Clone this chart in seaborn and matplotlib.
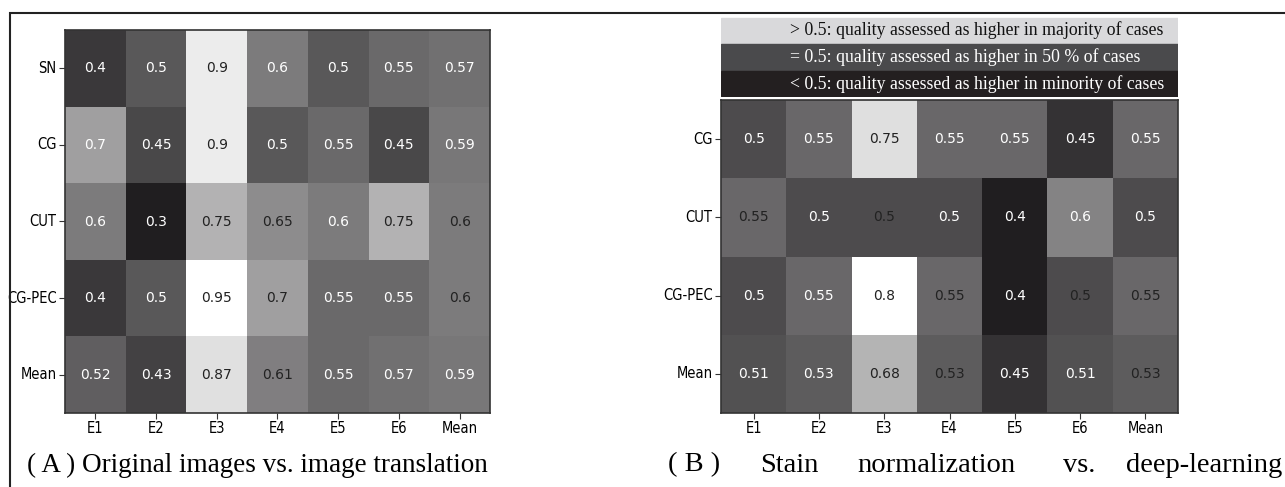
import numpy as np
import pandas as pd
import matplotlib
matplotlib.use("Agg")
import matplotlib.pyplot as plt
from matplotlib.colors import LinearSegmentedColormap
from matplotlib.patches import Rectangle
import seaborn as sns

# data
cols = ["E1", "E2", "E3", "E4", "E5", "E6", "Mean"]
rows_a = ["SN", "CG", "CUT", "CG-PEC", "Mean"]
rows_b = ["CG", "CUT", "CG-PEC", "Mean"]

vals_a = [
    [0.4, 0.5, 0.9, 0.6, 0.5, 0.55, 0.57],
    [0.7, 0.45, 0.9, 0.5, 0.55, 0.45, 0.59],
    [0.6, 0.3, 0.75, 0.65, 0.6, 0.75, 0.6],
    [0.4, 0.5, 0.95, 0.7, 0.55, 0.55, 0.6],
    [0.52, 0.43, 0.87, 0.61, 0.55, 0.57, 0.59],
]
vals_b = [
    [0.5, 0.55, 0.75, 0.55, 0.55, 0.45, 0.55],
    [0.55, 0.5, 0.5, 0.5, 0.4, 0.6, 0.5],
    [0.5, 0.55, 0.8, 0.55, 0.4, 0.5, 0.55],
    [0.51, 0.53, 0.68, 0.53, 0.45, 0.51, 0.53],
]

# cells whose annotation is printed dark
dark_a = [
    [0, 0, 1, 0, 0, 0, 0],
    [0, 0, 1, 0, 0, 0, 0],
    [0, 0, 1, 1, 0, 1, 1],
    [0, 0, 1, 1, 0, 0, 1],
    [0, 0, 1, 1, 0, 0, 0],
]
dark_b = [
    [0, 0, 1, 0, 0, 0, 0],
    [1, 0, 1, 0, 0, 0, 0],
    [0, 0, 1, 1, 0, 1, 1],
    [0, 0, 1, 1, 0, 0, 1],
]

legend_lines = [
    "> 0.5: quality assessed as higher in majority of cases",
    "= 0.5: quality assessed as higher in 50 % of cases",
    "< 0.5: quality assessed as higher in minority of cases",
]

df_a = pd.DataFrame(vals_a, index=rows_a, columns=cols)
df_b = pd.DataFrame(vals_b, index=rows_b, columns=cols)

cmap = LinearSegmentedColormap.from_list("g", ["#201e20", "#ffffff"], gamma=1.15)

W, H = 1285, 487
fig = plt.figure(figsize=(W / 100, H / 100), dpi=100)


def px_axes(x0, y0, x1, y1):
    return fig.add_axes([x0 / W, 1 - y1 / H, (x1 - x0) / W, (y1 - y0) / H])


def draw(ax, df, dark, vmin, vmax):
    sns.heatmap(df, ax=ax, cmap=cmap, vmin=vmin, vmax=vmax, annot=True, fmt=".2g",
                cbar=False, annot_kws={"fontsize": 10})
    flat = np.array(dark).ravel()
    for t, d in zip(ax.texts, flat):
        t.set_color("#222222" if d else "white")
    ax.tick_params(axis="both", length=4, pad=2, color="#333333")
    ax.set_yticklabels(ax.get_yticklabels(), rotation=0)
    for lab in ax.get_xticklabels() + ax.get_yticklabels():
        lab.set_fontsize(10.5)
        lab.set_fontstretch("condensed")
    ax.set_xlabel("")
    ax.set_ylabel("")
    for s in ax.spines.values():
        s.set_visible(True)
        s.set_color("#333333")
        s.set_linewidth(1.2)


ax_a = px_axes(65, 30, 490, 413)
draw(ax_a, df_a, dark_a, 0.3, 0.95)

ax_b = px_axes(721, 100, 1178, 413)
draw(ax_b, df_b, dark_b, 0.4, 0.8)

# legend bands above panel B
ax_l = px_axes(721, 17, 1178, 97)
band_colors = ["#d9d9db", "#4a4a4c", "#231f20"]
text_colors = ["#111111", "white", "white"]
for i, (c, tc, line) in enumerate(zip(band_colors, text_colors, legend_lines)):
    y = 2 - i
    ax_l.add_patch(Rectangle((0, y + 0.03), 1, 0.94, color=c))
    ax_l.text(0.15, y + 0.5, line, color=tc, va="center", ha="left",
              fontsize=12.8, family="Liberation Serif")
ax_l.set_xlim(0, 1)
ax_l.set_ylim(0, 3)
ax_l.axis("off")

# captions
fig.text(27 / W, 1 - 465 / H, "( A ) Original images vs. image translation",
         fontsize=19.5, family="Liberation Serif", va="center", ha="left")
words_b = ["( B )", "Stain", "normalization", "vs.", "deep-learning"]
pos_b = [668, 760, 857, 1063, 1282]
aligns_b = ["left", "left", "left", "left", "right"]
for w, x, ha in zip(words_b, pos_b, aligns_b):
    fig.text(x / W, 1 - 465 / H, w, fontsize=20.5, family="Liberation Serif",
             va="center", ha=ha)

# outer frame
fig.add_artist(Rectangle((10 / W, -0.1), 1.2, 1 - 13 / H + 0.1,
                         transform=fig.transFigure, fill=False,
                         edgecolor="#222222", linewidth=1.5))

fig.savefig("out.png", dpi=100)
